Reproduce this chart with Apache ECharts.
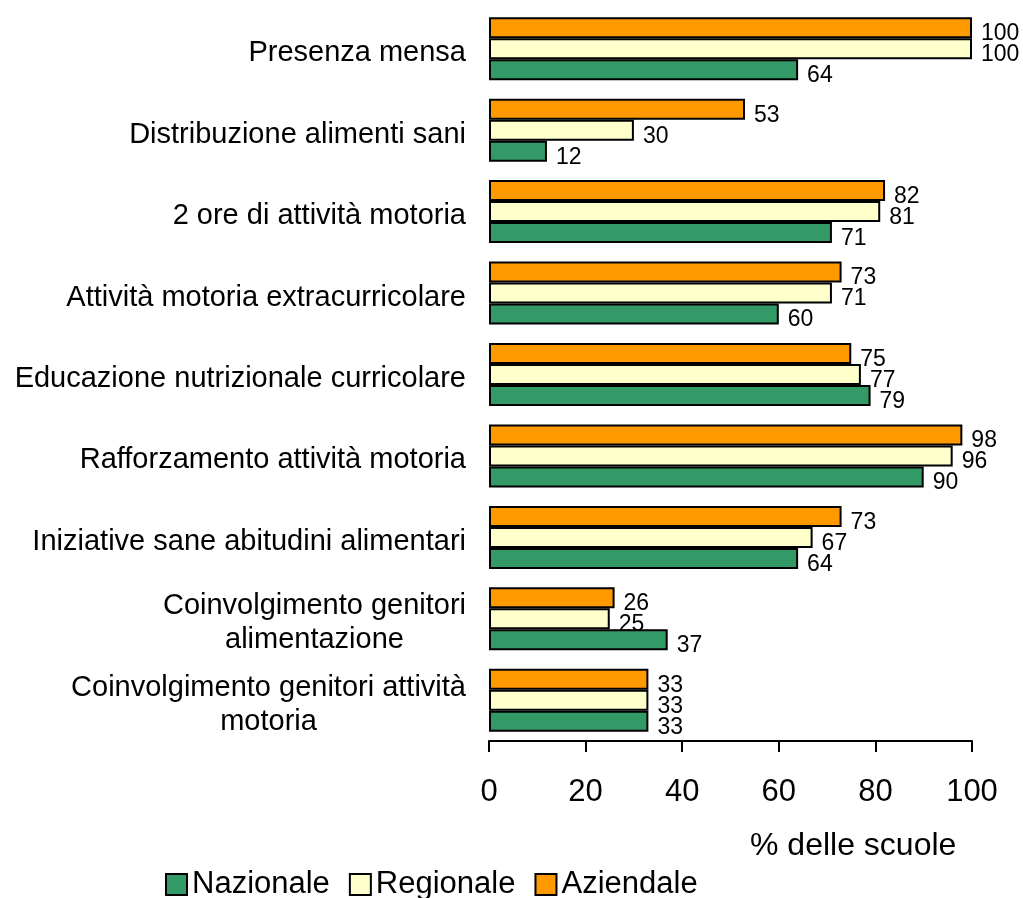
<!DOCTYPE html>
<html>
<head>
<meta charset="utf-8">
<script src="https://cdn.jsdelivr.net/npm/echarts@6/dist/echarts.min.js"></script>
<style>
html,body{margin:0;padding:0;background:#fff;}
#chart{width:1023px;height:898px;}
</style>
</head>
<body>
<div id="chart"></div>
<script>
var categories = [
  'Presenza mensa',
  'Distribuzione alimenti sani',
  '2 ore di attività motoria',
  'Attività motoria extracurricolare',
  'Educazione nutrizionale curricolare',
  'Rafforzamento attività motoria',
  'Iniziative sane abitudini alimentari',
  'Coinvolgimento genitori\nalimentazione',
  'Coinvolgimento genitori attività\nmotoria'
];
var aziendale = [100, 53, 82, 73, 75, 98, 73, 26, 33];
var regionale = [100, 30, 81, 71, 77, 96, 67, 25, 33];
var nazionale = [64, 12, 71, 60, 79, 90, 64, 37, 33];
var xTicks = [0, 20, 40, 60, 80, 100];
var axisTitle = '% delle scuole';

var FONT = 'Liberation Sans, Arial, Helvetica, sans-serif';
var chart = echarts.init(document.getElementById('chart'));

function barSeries(name, data, color) {
  return {
    name: name,
    type: 'bar',
    data: data,
    barWidth: 21,
    barGap: '0%',
    itemStyle: { color: color, borderColor: '#000', borderWidth: 2 },
    label: {
      show: true,
      position: 'right',
      distance: 9,
      offset: [0, 6],
      color: '#000',
      fontSize: 23,
      fontFamily: FONT
    },
    animation: false
  };
}

chart.setOption({
  backgroundColor: '#fff',
  animation: false,
  grid: { left: 489, right: 51, top: 8, bottom: 157, containLabel: false },
  xAxis: {
    type: 'value',
    min: xTicks[0],
    max: xTicks[xTicks.length - 1],
    interval: 20,
    axisLine: { show: true, lineStyle: { color: '#000', width: 2 } },
    axisTick: { show: true, length: 11, lineStyle: { color: '#000', width: 2 } },
    splitLine: { show: false },
    axisLabel: { color: '#000', fontSize: 31, fontFamily: FONT, margin: 36 }
  },
  yAxis: {
    type: 'category',
    inverse: true,
    data: categories,
    axisLine: { show: false },
    axisTick: { show: false },
    axisLabel: {
      color: '#000',
      fontFamily: FONT,
      fontSize: 29,
      margin: 23,
      align: 'right',
      padding: [9, 0, 0, 0],
      formatter: function (v) {
        return v.split('\n').map(function (l) { return '{c|' + l + '}'; }).join('\n');
      },
      rich: { c: { fontSize: 29, fontFamily: FONT, color: '#000', align: 'center', lineHeight: 34 } }
    }
  },
  legend: {
    data: ['Nazionale', 'Regionale', 'Aziendale'],
    left: 160,
    top: 864,
    icon: 'rect',
    itemWidth: 21,
    itemHeight: 21,
    itemGap: 19,
    textStyle: { color: '#000', fontSize: 31, fontFamily: FONT }
  },
  graphic: [{
    type: 'text',
    left: 750,
    top: 830,
    style: { text: axisTitle, fill: '#000', fontSize: 32, fontFamily: FONT }
  }],
  series: [
    barSeries('Aziendale', aziendale, '#FF9900'),
    barSeries('Regionale', regionale, '#FFFFCC'),
    barSeries('Nazionale', nazionale, '#339966')
  ]
});
</script>
</body>
</html>
